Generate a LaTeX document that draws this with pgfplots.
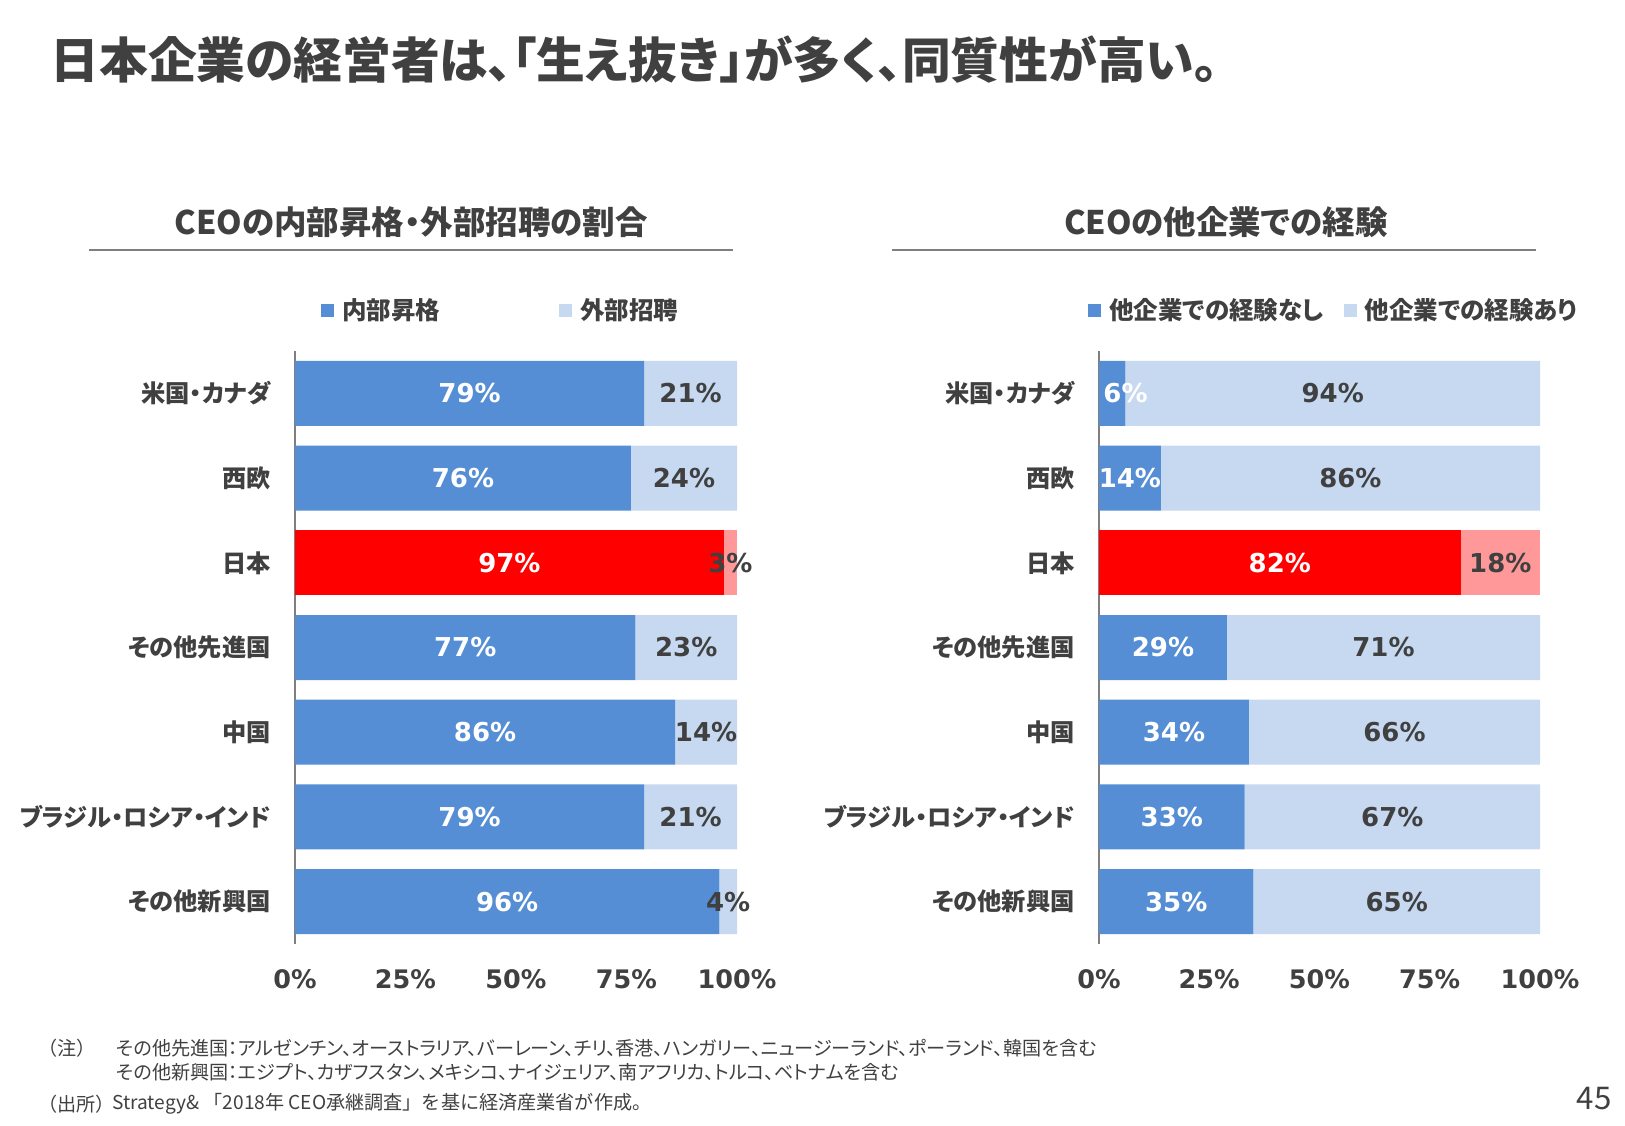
\documentclass[border=0pt]{standalone}
\usepackage{pgfplots}
\pgfplotsset{compat=1.18}
\usepackage{pgfplotstable}
\usepackage{fontspec}
\setmainfont{DejaVu Sans}
\newfontfamily\jp{Noto Sans CJK JP}[RawFeature=+palt]
\newfontfamily\jpn{Noto Sans CJK JP}
\newfontfamily\num{DejaVu Sans}
\definecolor{dblue}{HTML}{558ED5}
\definecolor{lblue}{HTML}{C6D9F1}
\definecolor{dred}{HTML}{FF0000}
\definecolor{lred}{HTML}{FF9999}
\definecolor{txt}{HTML}{404040}
\definecolor{axgray}{HTML}{7F7F7F}

\pgfplotstableread{
y a b
0 79 21
1 76 24
3 77 23
4 86 14
5 79 21
6 96 4
}\tabL
\pgfplotstableread{
y a b
2 97 3
}\tabLJ
\pgfplotstableread{
y a b
0 6 94
1 14 86
3 29 71
4 34 66
5 33 67
6 35 65
}\tabR
\pgfplotstableread{
y a b
2 82 18
}\tabRJ

\pgfplotsset{
  frame/.style={scale only axis, height=237.2pt, xmin=0, xmax=100, ymin=-0.5, ymax=6.5, y dir=reverse, anchor=south west},
  mainax/.style={frame, xbar stacked, bar width=26pt,
    axis y line*=left, axis x line*=bottom,
    x axis line style={draw=none},
    y axis line style={-, draw=axgray, line width=1pt},
    major tick length=0pt, tick style={draw=none},
    xtick={0,25,50,75,100}, xticklabels={0\%,25\%,50\%,75\%,100\%},
    xticklabel style={font=\num\bfseries\fontsize{10.2}{12}\selectfont, text=txt, anchor=center, inner sep=0pt, yshift=-14pt},
    ytick={0,...,6},
    yticklabels={米国・カナダ,西欧,日本,その他先進国,中国,ブラジル・ロシア・インド,その他新興国},
    yticklabel style={font=\jp\bfseries\fontsize{9.7}{12}\selectfont, text=txt, anchor=east, inner sep=0pt, xshift=-9.6pt},
    legend style={draw=none, fill=none, inner sep=0pt, legend columns=2, font=\jp\bfseries\fontsize{9.8}{12}\selectfont, text=txt, nodes={inner sep=0pt}, /tikz/every odd column/.append style={column sep=3.2pt}},
    legend cell align=left,
    legend image code/.code={\fill[##1] (0pt,-2.6pt) rectangle (5.2pt,2.6pt);},
  },
  overax/.style={frame, hide axis, xbar stacked, bar width=26pt},
  labax/.style={frame, hide axis, clip=false},
  wl/.style={draw=none, mark=none, nodes near coords={\pgfmathprintnumber[assume math mode=true]{\pgfplotspointmeta}\%}, point meta=explicit,
     every node near coord/.append style={anchor=center, inner sep=0pt, text=white, font=\num\bfseries\fontsize{10.4}{12}\selectfont}},
  dl/.style={wl, every node near coord/.append style={text=txt}},
}

\begin{document}
\begin{tikzpicture}
\path[use as bounding box] (0,0) rectangle (650pt,-450pt);

% title
\node[anchor=west, inner sep=0pt, text=txt, font=\jp\bfseries\fontsize{19.5}{22}\selectfont] at (20pt,-24pt) {日本企業の経営者は、「生え抜き」が多く、同質性が高い。};

% subtitles
\node[inner sep=0pt, text=txt, font=\jp\bfseries\fontsize{13}{15}\selectfont] at (164.4pt,-88.8pt) {CEOの内部昇格・外部招聘の割合};
\draw[axgray, line width=0.9pt] (35.6pt,-100pt) -- (293.2pt,-100pt);
\node[inner sep=0pt, text=txt, font=\jp\bfseries\fontsize{13}{15}\selectfont] at (490.4pt,-88.8pt) {CEOの他企業での経験};
\draw[axgray, line width=0.9pt] (356.8pt,-100pt) -- (614.4pt,-100pt);

% ---------- left chart ----------
\begin{axis}[mainax, at={(118pt,-377.6pt)}, width=176.8pt,
  legend style={at={(axis description cs:0.0588,1.0675)}, anchor=west, /tikz/every even column/.append style={column sep=47.6pt}}]
\addplot[fill=dblue, draw=none] table[x=a,y=y]{\tabL};
\addplot[fill=lblue, draw=none] table[x=b,y=y]{\tabL};
\legend{内部昇格,外部招聘}
\end{axis}
\begin{axis}[overax, at={(118pt,-377.6pt)}, width=176.8pt]
\addplot[fill=dred, draw=none] table[x=a,y=y]{\tabLJ};
\addplot[fill=lred, draw=none] table[x=b,y=y]{\tabLJ};
\end{axis}
\begin{axis}[labax, at={(118pt,-377.6pt)}, width=176.8pt]
\addplot[wl] table[x expr={max(\thisrow{a}/2,6)}, y=y, meta=a]{\tabL};
\addplot[wl] table[x expr={max(\thisrow{a}/2,6)}, y=y, meta=a]{\tabLJ};
\addplot[dl] table[x expr=\thisrow{a}+\thisrow{b}/2, y=y, meta=b]{\tabL};
\addplot[dl] table[x expr=\thisrow{a}+\thisrow{b}/2, y=y, meta=b]{\tabLJ};
\end{axis}

% ---------- right chart ----------
\begin{axis}[mainax, at={(439.6pt,-377.6pt)}, width=176.4pt,
  legend style={at={(axis description cs:-0.025,1.0675)}, anchor=west, /tikz/every even column/.append style={column sep=8pt}}]
\addplot[fill=dblue, draw=none] table[x=a,y=y]{\tabR};
\addplot[fill=lblue, draw=none] table[x=b,y=y]{\tabR};
\legend{他企業での経験なし,他企業での経験あり}
\end{axis}
\begin{axis}[overax, at={(439.6pt,-377.6pt)}, width=176.4pt]
\addplot[fill=dred, draw=none] table[x=a,y=y]{\tabRJ};
\addplot[fill=lred, draw=none] table[x=b,y=y]{\tabRJ};
\end{axis}
\begin{axis}[labax, at={(439.6pt,-377.6pt)}, width=176.4pt]
\addplot[wl] table[x expr={max(\thisrow{a}/2,6)}, y=y, meta=a]{\tabR};
\addplot[wl] table[x expr={max(\thisrow{a}/2,6)}, y=y, meta=a]{\tabRJ};
\addplot[dl] table[x expr=\thisrow{a}+\thisrow{b}/2, y=y, meta=b]{\tabR};
\addplot[dl] table[x expr=\thisrow{a}+\thisrow{b}/2, y=y, meta=b]{\tabRJ};
\end{axis}

% footnotes
\begin{scope}[every node/.style={anchor=west, inner sep=0pt, text=txt, font=\jp\fontsize{7.65}{9}\selectfont}]
\node[font=\jpn\fontsize{7.65}{9}\selectfont] at (15.2pt,-419.2pt) {（注）};
\node at (46.4pt,-419.2pt) {その他先進国：アルゼンチン、オーストラリア、バーレーン、チリ、香港、ハンガリー、ニュージーランド、ポーランド、韓国を含む};
\node at (46.4pt,-428.8pt) {その他新興国：エジプト、カザフスタン、メキシコ、ナイジェリア、南アフリカ、トルコ、ベトナムを含む};
\node[font=\jpn\fontsize{7.65}{9}\selectfont] at (15.2pt,-441.6pt) {（出所）};
\node[font=\jpn\fontsize{7.65}{9}\selectfont] at (44.8pt,-441.6pt) {Strategy\& 「2018年 CEO承継調査」を基に経済産業省が作成。};
\end{scope}
\node[anchor=east, inner sep=0pt, text=txt, font=\jp\fontsize{12.5}{14}\selectfont] at (644.8pt,-439.6pt) {45};
\end{tikzpicture}
\end{document}
